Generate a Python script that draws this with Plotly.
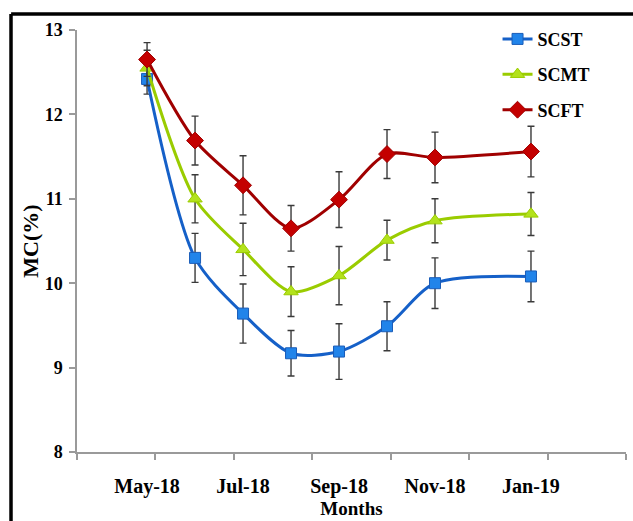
import numpy as np
import plotly.graph_objects as go

# ---- data ----
all_months = ["May-18", "Jun-18", "Jul-18", "Aug-18", "Sep-18", "Oct-18", "Nov-18", "Dec-18", "Jan-19"]
sampled_months = ["May-18", "Jun-18", "Jul-18", "Aug-18", "Sep-18", "Oct-18", "Nov-18", "Jan-19"]
tick_labels = ["May-18", "Jul-18", "Sep-18", "Nov-18", "Jan-19"]

scst = [12.42, 10.30, 9.64, 9.17, 9.19, 9.49, 10.00, 10.08]
scst_err = [0.18, 0.29, 0.35, 0.27, 0.33, 0.29, 0.30, 0.30]
scmt = [12.55, 11.00, 10.40, 9.90, 10.09, 10.51, 10.74, 10.82]
scmt_err = [0.21, 0.285, 0.31, 0.295, 0.345, 0.235, 0.26, 0.255]
scft = [12.65, 11.69, 11.16, 10.65, 10.99, 11.53, 11.49, 11.56]
scft_err = [0.20, 0.29, 0.35, 0.27, 0.33, 0.29, 0.30, 0.30]

x_idx = [all_months.index(m) for m in sampled_months]
tick_idx = [all_months.index(m) for m in tick_labels]

FONT = "Liberation Serif, Times New Roman, serif"
ERR = dict(type="data", visible=True, color="#3a3a3a", thickness=1.4, width=3.5)

series = [
    ("SCST", scst, scst_err, "#1560c8", "square", "#2184ea", "#1a5cb8", 11),
    ("SCMT", scmt, scmt_err, "#9acc00", "triangle-up", "#b3e21c", "#9acc00", 12.5),
    ("SCFT", scft, scft_err, "#a00000", "diamond", "#c40000", "#a00000", 13),
]

fig = go.Figure()
for name, vals, errs, lc, sym, mfill, mline, msize in series:
    fig.add_trace(go.Scatter(
        x=x_idx, y=vals, name=name, legendgroup=name,
        mode="lines+markers",
        line=dict(color=lc, width=3, shape="spline", smoothing=0.8),
        marker=dict(symbol=sym, size=msize, color=mfill, line=dict(color=mline, width=1)),
        error_y=dict(array=errs, **ERR),
    ))

xr0, xr1 = -1.46, 9.98
minor_ticks = list(np.linspace(xr0, xr1, 8))

fig.update_layout(
    width=633, height=521,
    margin=dict(l=77, r=7, t=30, b=67),
    paper_bgcolor="white", plot_bgcolor="white",
    font=dict(family=FONT, color="black"),
    showlegend=True,
    legend=dict(
        x=0.766, y=1.022, xanchor="left", yanchor="top",
        font=dict(family=FONT, size=18, color="black", weight="bold"),
        bgcolor="rgba(0,0,0,0)", tracegroupgap=9, traceorder="grouped",
        itemwidth=30,
    ),
    xaxis=dict(
        range=[xr0, xr1],
        tickmode="array", tickvals=tick_idx, ticktext=tick_labels,
        ticks="", ticklabelstandoff=15,
        tickfont=dict(family=FONT, size=20, color="black", weight="bold"),
        showline=True, linecolor="#9a9a9a", linewidth=1.5,
        showgrid=False, zeroline=False,
        minor=dict(tickmode="array", tickvals=minor_ticks, ticks="outside",
                   ticklen=6, tickcolor="#9a9a9a", tickwidth=1.5, showgrid=False),
        title=dict(text="Months", standoff=3,
                   font=dict(family=FONT, size=19, color="black", weight="bold")),
    ),
    yaxis=dict(
        range=[8, 13], tickmode="array", tickvals=[8, 9, 10, 11, 12, 13],
        ticks="outside", ticklen=6, tickcolor="#9a9a9a", tickwidth=1.5,
        ticklabelstandoff=3,
        tickfont=dict(family=FONT, size=18, color="black", weight="bold"),
        showline=True, linecolor="#9a9a9a", linewidth=1.5,
        showgrid=False, zeroline=False,
        title=dict(text="MC(%)", standoff=0,
                   font=dict(family=FONT, size=22, color="black", weight="bold")),
    ),
    shapes=[
        dict(type="line", xref="paper", yref="paper", x0=-0.12, x1=1.05, y0=1.0377, y1=1.0377,
             line=dict(color="black", width=3.5)),
        dict(type="line", xref="paper", yref="paper", x0=-0.1202, x1=-0.1202, y0=1.0377, y1=-0.2,
             line=dict(color="black", width=3.5)),
    ],
)

fig.write_html("out.html")
